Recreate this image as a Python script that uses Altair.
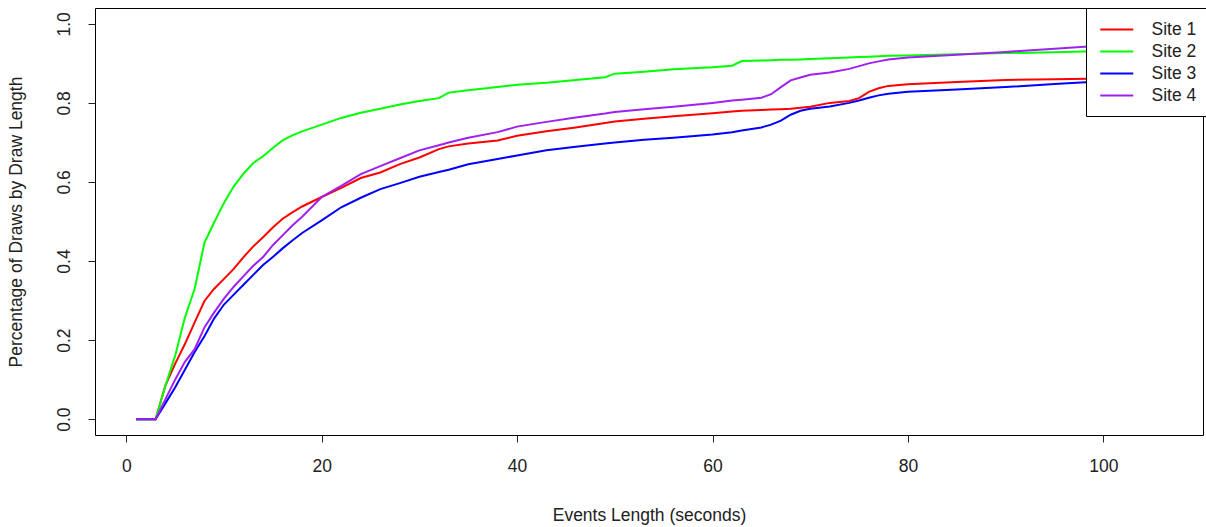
import altair as alt
import pandas as pd

# Shared x positions (seconds)
x_vals = [1, 2, 3, 4, 5, 6, 7, 8, 9, 10, 11, 12, 13, 14, 15, 16, 17, 18, 20, 22, 24, 26, 28, 30,
          32, 33, 35, 38, 40, 43, 46, 49, 50, 53, 56, 60, 62, 63, 65, 66, 67, 68, 69, 70, 72, 74,
          75, 76, 77, 78, 80, 85, 90, 95, 100, 106]

site1 = [0, 0, 0, 0.085, 0.14, 0.19, 0.245, 0.299, 0.33, 0.355, 0.38, 0.41, 0.437, 0.46, 0.485,
         0.507, 0.523, 0.538, 0.562, 0.585, 0.61, 0.624, 0.645, 0.662, 0.683, 0.69, 0.697, 0.705,
         0.717, 0.728, 0.738, 0.749, 0.753, 0.76, 0.766, 0.774, 0.778, 0.78, 0.782, 0.783, 0.784,
         0.785, 0.788, 0.79, 0.8, 0.805, 0.812, 0.828, 0.837, 0.843, 0.847, 0.853, 0.858, 0.86,
         0.862, 0.865]
site2 = [0, 0, 0, 0.084, 0.16, 0.257, 0.33, 0.446, 0.498, 0.547, 0.589, 0.621, 0.648, 0.665,
         0.686, 0.705, 0.718, 0.728, 0.745, 0.762, 0.775, 0.785, 0.796, 0.805, 0.812, 0.826, 0.832,
         0.84, 0.846, 0.851, 0.858, 0.865, 0.874, 0.879, 0.885, 0.89, 0.894, 0.906, 0.907, 0.908,
         0.909, 0.909, 0.91, 0.911, 0.913, 0.915, 0.916, 0.917, 0.918, 0.919, 0.92, 0.923, 0.926,
         0.928, 0.931, 0.935]
site3 = [0, 0, 0, 0.04, 0.08, 0.125, 0.17, 0.21, 0.255, 0.29, 0.315, 0.34, 0.365, 0.39, 0.41,
         0.432, 0.452, 0.471, 0.503, 0.536, 0.56, 0.582, 0.597, 0.613, 0.625, 0.631, 0.645, 0.658,
         0.667, 0.68, 0.689, 0.697, 0.7, 0.707, 0.712, 0.72, 0.726, 0.73, 0.738, 0.745, 0.755,
         0.77, 0.78, 0.785, 0.791, 0.8, 0.806, 0.813, 0.819, 0.823, 0.828, 0.834, 0.84, 0.848,
         0.855, 0.86]
site4 = [0, 0, 0, 0.05, 0.1, 0.145, 0.177, 0.232, 0.27, 0.305, 0.335, 0.362, 0.388, 0.41, 0.44,
         0.465, 0.49, 0.512, 0.562, 0.59, 0.62, 0.64, 0.66, 0.68, 0.693, 0.7, 0.712, 0.726, 0.74,
         0.752, 0.763, 0.773, 0.777, 0.784, 0.79, 0.8, 0.806, 0.808, 0.813, 0.822, 0.84, 0.857,
         0.864, 0.871, 0.877, 0.886, 0.893, 0.9, 0.905, 0.91, 0.915, 0.922, 0.929, 0.937, 0.945,
         0.95]

site_names = ["Site 1", "Site 2", "Site 3", "Site 4"]
site_colors = ["#FF0000", "#00FF00", "#0000FF", "#A020F0"]
x_ticks = [0, 20, 40, 60, 80, 100]
y_ticks = [0.0, 0.2, 0.4, 0.6, 0.8, 1.0]

rows = []
for name, series in zip(site_names, [site1, site2, site3, site4]):
    for xv, yv in zip(x_vals, series):
        rows.append({"x": xv, "y": yv, "site": name})
df = pd.DataFrame(rows)

FONT = "Liberation Sans"
FS = 17.5
TXT = "#222222"

chart = alt.Chart(df).mark_line(strokeWidth=2, clip=True).encode(
    x=alt.X("x:Q", scale=alt.Scale(domain=[-3.2, 110.2], nice=False, zero=False),
            axis=alt.Axis(title="Events Length (seconds)", values=x_ticks, format="d",
                          grid=False, domain=False, tickColor=TXT, tickSize=7,
                          labelPadding=15, titlePadding=32, labelFontSize=FS,
                          titleFontSize=FS, titleFontWeight="normal")),
    y=alt.Y("y:Q", scale=alt.Scale(domain=[-0.04, 1.04], nice=False, zero=False),
            axis=alt.Axis(title="Percentage of Draws by Draw Length", values=y_ticks,
                          format=".1f", grid=False, domain=False, tickColor=TXT,
                          tickSize=7, labelAngle=270, labelAlign="center",
                          labelBaseline="bottom", labelPadding=15, titlePadding=30,
                          labelFontSize=FS, titleFontSize=FS, titleFontWeight="normal")),
    color=alt.Color("site:N", scale=alt.Scale(domain=site_names, range=site_colors),
                    legend=alt.Legend(title=None, orient="none", legendX=991, legendY=0,
                                      symbolType="M-2,0L2,0", symbolSize=272,
                                      symbolStrokeWidth=2, symbolOffset=9.25,
                                      labelFontSize=FS, labelOffset=25.25,
                                      labelExpr="datum.label + '          '",
                                      fillColor="white", strokeColor="#000000",
                                      padding=12, rowPadding=4)),
).properties(
    width=1108, height=427,
    autosize=alt.AutoSizeParams(type="none"),
    padding={"left": 95, "top": 8, "right": 3, "bottom": 92},
).configure(
    font=FONT
).configure_view(
    stroke="#000000", strokeWidth=1
).configure_axis(
    labelColor=TXT, titleColor=TXT, labelFont=FONT, titleFont=FONT
).configure_legend(
    labelFont=FONT, labelColor=TXT
)

chart.save("out.html", embed_options={"renderer": "svg", "actions": False})
